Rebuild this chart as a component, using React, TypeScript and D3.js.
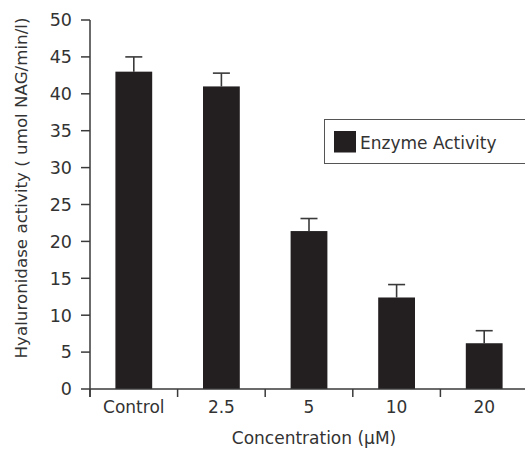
import React from "react";
import * as d3 from "d3";

const categories = ["Control", "2.5", "5", "10", "20"];
const activity = [43.0, 41.0, 21.4, 12.4, 6.2];
const errors = [2.0, 1.8, 1.7, 1.75, 1.7];
const yTicks = [0, 5, 10, 15, 20, 25, 30, 35, 40, 45, 50];
const legendLabel = "Enzyme Activity";
const yTitle = "Hyaluronidase activity ( umol NAG/min/l)";
const xTitle = "Concentration (\u00b5M)";

const W = 525;
const H = 449;
const FONT = "'DejaVu Sans', sans-serif";
const TEXT = "#333";
const AXIS = "#3a3a3a";
const BAR = "#231f20";

export default function App() {
  const x0 = 90;
  const step = 87.6;
  const x = d3.scaleBand<string>().domain(categories).range([x0, x0 + step * categories.length]).padding(0);
  const y = d3.scaleLinear().domain([0, 50]).range([389, 20]);
  const barW = x.bandwidth() * 0.42;
  const capW = 17;

  const boundaries = categories.map((c) => x(c) as number).concat([x0 + step * categories.length]);

  return (
    <svg
      width={W}
      height={H}
      style={{ position: "absolute", left: 0, top: 0, background: "#fff" }}
      fontFamily={FONT}
    >
      {/* bars */}
      {categories.map((c, i) => {
        const cx = (x(c) as number) + x.bandwidth() / 2;
        return (
          <g key={c}>
            <line
              x1={cx}
              x2={cx}
              y1={y(activity[i])}
              y2={y(activity[i] + errors[i])}
              stroke={AXIS}
              strokeWidth={1.6}
            />
            <line
              x1={cx - capW / 2}
              x2={cx + capW / 2}
              y1={y(activity[i] + errors[i])}
              y2={y(activity[i] + errors[i])}
              stroke={AXIS}
              strokeWidth={1.6}
            />
            <rect
              x={cx - barW / 2}
              y={y(activity[i])}
              width={barW}
              height={y(0) - y(activity[i])}
              fill={BAR}
            />
          </g>
        );
      })}

      {/* y axis */}
      <line x1={x0} x2={x0} y1={y(50)} y2={y(0) + 8} stroke={AXIS} strokeWidth={1.5} />
      {yTicks.map((t) => (
        <g key={t}>
          <line x1={x0 - 9} x2={x0} y1={y(t)} y2={y(t)} stroke={AXIS} strokeWidth={1.5} />
          <text
            x={x0 - 18}
            y={y(t)}
            dy="0.36em"
            textAnchor="end"
            fontSize={17.5}
            fill={TEXT}
          >
            {t}
          </text>
        </g>
      ))}

      {/* x axis */}
      <line x1={x0} x2={W} y1={y(0)} y2={y(0)} stroke={AXIS} strokeWidth={1.5} />
      {boundaries.map((b, i) => (
        <line key={i} x1={b} x2={b} y1={y(0)} y2={y(0) + 8} stroke={AXIS} strokeWidth={1.5} />
      ))}
      {categories.map((c) => (
        <text
          key={c}
          x={(x(c) as number) + x.bandwidth() / 2}
          y={413}
          textAnchor="middle"
          fontSize={17}
          fill={TEXT}
        >
          {c}
        </text>
      ))}

      {/* titles */}
      <text x={314} y={444} textAnchor="middle" fontSize={17} fill={TEXT}>
        {xTitle}
      </text>
      <text
        transform={`translate(27,188) rotate(-90)`}
        textAnchor="middle"
        fontSize={16.7}
        fill={TEXT}
      >
        {yTitle}
      </text>

      {/* legend */}
      <rect x={324.5} y={119.5} width={220} height={44} fill="#fff" stroke="#555" strokeWidth={1} />
      <rect x={334} y={131} width={22} height={21.5} fill={BAR} />
      <text x={360} y={148.5} fontSize={17} fill={TEXT}>
        {legendLabel}
      </text>
    </svg>
  );
}
